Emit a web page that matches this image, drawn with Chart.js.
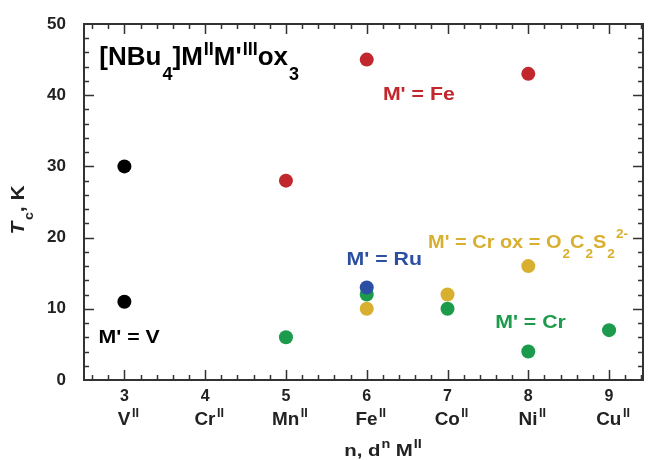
<!DOCTYPE html>
<html>
<head>
<meta charset="utf-8">
<script src="https://cdn.jsdelivr.net/npm/chart.js@4/dist/chart.umd.min.js"></script>
<style>
  body { margin: 0; background: #fff; }
  #wrap { width: 650px; height: 460px; }
</style>
</head>
<body>
<div id="wrap"><canvas id="chartTc"></canvas></div>
<script>
// n (nombre d'électrons d) et ions M(II) correspondants
const nValues = [3, 4, 5, 6, 7, 8, 9];
const ions = ['V', 'Cr', 'Mn', 'Fe', 'Co', 'Ni', 'Cu'];
const yTicks = [0, 10, 20, 30, 40, 50];

// Tc (K) par série M'
const vN = [3, 3];
const vTc = [30, 11];
const feN = [5, 6, 8];
const feTc = [28, 45, 43];
const ruN = [6];
const ruTc = [13];
const crN = [5, 6, 7, 8, 9];
const crTc = [6, 12, 10, 4, 7];
const crsN = [6, 7, 8];
const crsTc = [10, 12, 16];

const C = {
  black: '#000000',
  red: '#c1272d',
  blue: '#2c4fa3',
  green: '#1b9b4b',
  yellow: '#d8af2e',
  axis: '#333333',
  text: '#222222'
};
const FONT = '"Liberation Sans", Arial, sans-serif';

function pts(xs, ys) {
  return xs.map((x, i) => ({ x: x, y: ys[i] }));
}

function richFont(kind, size) {
  const small = kind === 'sub' || kind === 'sup';
  const s = small ? Math.round(size * 0.68) : size;
  return (kind === 'i' ? 'italic ' : '') + 'bold ' + s + 'px ' + FONT;
}

// texte avec indices / exposants (o = options : align, sx, sub, sup, gap)
function drawRich(ctx, parts, x, y, size, color, o) {
  o = o || {};
  const sx = o.sx || 1;
  const subDy = size * (o.sub || 0.45);
  const supDy = -size * (o.sup || 0.4);
  const gap = size * (o.gap !== undefined ? o.gap : 0.08);
  ctx.save();
  ctx.fillStyle = color;
  ctx.textBaseline = 'alphabetic';
  ctx.textAlign = 'left';
  let total = 0;
  parts.forEach(p => {
    ctx.font = richFont(p[1], size);
    if (p[1] === 'sub' || p[1] === 'sup') total += gap;
    total += ctx.measureText(p[0]).width;
  });
  const x0 = o.align === 'center' ? x - total * sx / 2 : x;
  ctx.translate(x0, y);
  ctx.scale(sx, 1);
  let cx = 0;
  parts.forEach(p => {
    ctx.font = richFont(p[1], size);
    let dy = 0;
    if (p[1] === 'sub') { dy = subDy; cx += gap; }
    if (p[1] === 'sup') { dy = supDy; cx += gap; }
    ctx.fillText(p[0], cx, dy);
    cx += ctx.measureText(p[0]).width;
  });
  ctx.restore();
}

// annotations (coordonnées en unités des données)
const notes = [
  { x: 2.69, y: 44.2, size: 26, color: C.black, o: { sub: 0.55, sup: 0.38, gap: 0.04 },
    parts: [['[NBu', 'n'], ['4', 'sub'], [']M', 'n'], ['II', 'sup'], ["M'", 'n'], ['III', 'sup'], ['ox', 'n'], ['3', 'sub']] },
  { x: 6.20, y: 39.3, size: 19, color: C.red, o: { sx: 1.12 }, parts: [["M' = Fe", 'n']] },
  { x: 2.68, y: 5.2, size: 19, color: C.black, o: { sx: 1.12 }, parts: [["M' = V", 'n']] },
  { x: 5.75, y: 16.2, size: 19, color: C.blue, o: { sx: 1.12 }, parts: [["M' = Ru", 'n']] },
  { x: 6.76, y: 18.5, size: 19, color: C.yellow, o: { sx: 1.05, sub: 0.5, sup: 0.55, gap: 0.05 },
    parts: [["M' = Cr ox = O", 'n'], ['2', 'sub'], ['C', 'n'], ['2', 'sub'], ['S', 'n'], ['2', 'sub'], ['2-', 'sup']] },
  { x: 7.59, y: 7.3, size: 19, color: C.green, o: { sx: 1.12 }, parts: [["M' = Cr", 'n']] }
];

const framePlugin = {
  id: 'frame',
  afterDraw(chart) {
    const ctx = chart.ctx;
    const a = chart.chartArea;
    const xs = chart.scales.x;
    const ys = chart.scales.y;
    ctx.save();
    ctx.strokeStyle = C.axis;
    ctx.lineWidth = 2;
    ctx.strokeRect(a.left, a.top, a.right - a.left, a.bottom - a.top);

    // graduations vers l'intérieur, sur les 4 côtés
    ctx.lineWidth = 1.5;
    ctx.beginPath();
    for (let v = 2.6; v < xs.max; v += 0.2) {
      const major = Math.abs(v - Math.round(v)) < 0.01;
      const len = major ? 10 : 5;
      const px = Math.round(xs.getPixelForValue(v)) + 0.5;
      ctx.moveTo(px, a.bottom); ctx.lineTo(px, a.bottom - len);
      ctx.moveTo(px, a.top); ctx.lineTo(px, a.top + len);
    }
    for (let v = 2; v < ys.max; v += 2) {
      const major = v % 10 === 0;
      const len = major ? 10 : 5;
      const py = Math.round(ys.getPixelForValue(v)) + 0.5;
      ctx.moveTo(a.left, py); ctx.lineTo(a.left + len, py);
      ctx.moveTo(a.right, py); ctx.lineTo(a.right - len, py);
    }
    ctx.stroke();
    ctx.restore();

    // ions M(II) sous les valeurs de n
    nValues.forEach((n, i) => {
      drawRich(ctx, [[ions[i], 'n'], ['II', 'sup']], xs.getPixelForValue(n) + 4, 425, 18,
        C.text, { align: 'center', sx: 1.05, sup: 0.45 });
    });

    // titre de l'axe x
    drawRich(ctx, [['n, d', 'n'], ['n', 'sup'], [' M', 'n'], ['II', 'sup']], 383, 456, 17, C.text,
      { align: 'center', sx: 1.2, sup: 0.45, gap: 0.04 });

    // titre de l'axe y
    ctx.save();
    ctx.translate(24, 210);
    ctx.rotate(-Math.PI / 2);
    drawRich(ctx, [['T', 'i'], ['c', 'sub'], [', K', 'n']], 0, 0, 19, C.text, { align: 'center', sx: 1.1 });
    ctx.restore();

    notes.forEach(nt => {
      drawRich(ctx, nt.parts, xs.getPixelForValue(nt.x), ys.getPixelForValue(nt.y), nt.size, nt.color, nt.o);
    });
  }
};

function serie(label, xs, ys, color) {
  return {
    label: label,
    data: pts(xs, ys),
    backgroundColor: color,
    borderColor: color,
    borderWidth: 0,
    pointRadius: 7,
    pointHoverRadius: 7
  };
}

new Chart(document.getElementById('chartTc'), {
  type: 'scatter',
  data: {
    datasets: [
      serie("M' = Ru", ruN, ruTc, C.blue),
      serie("M' = V", vN, vTc, C.black),
      serie("M' = Fe", feN, feTc, C.red),
      serie("M' = Cr", crN, crTc, C.green),
      serie("M' = Cr, O2C2S2", crsN, crsTc, C.yellow)
    ]
  },
  options: {
    responsive: true,
    maintainAspectRatio: false,
    animation: false,
    events: [],
    layout: { padding: { top: 24, right: 4, left: 0, bottom: 0 } },
    plugins: {
      legend: { display: false },
      tooltip: { enabled: false }
    },
    scales: {
      x: {
        type: 'linear',
        min: 2.5,
        max: 9.42,
        afterBuildTicks: (s) => { s.ticks = nValues.map(v => ({ value: v })); },
        afterFit: (s) => { s.height = 80; },
        grid: { display: false },
        border: { display: false },
        ticks: {
          color: C.text,
          padding: -1,
          font: { family: FONT, size: 16, weight: 'bold' },
          callback: (v) => String(v)
        }
      },
      y: {
        min: 0,
        max: 50,
        afterBuildTicks: (s) => { s.ticks = yTicks.map(v => ({ value: v })); },
        afterFit: (s) => { s.width = 84; },
        grid: { display: false },
        border: { display: false },
        ticks: {
          color: C.text,
          padding: 10,
          font: { family: FONT, size: 17, weight: 'bold' }
        }
      }
    }
  },
  plugins: [framePlugin]
});
</script>
</body>
</html>
